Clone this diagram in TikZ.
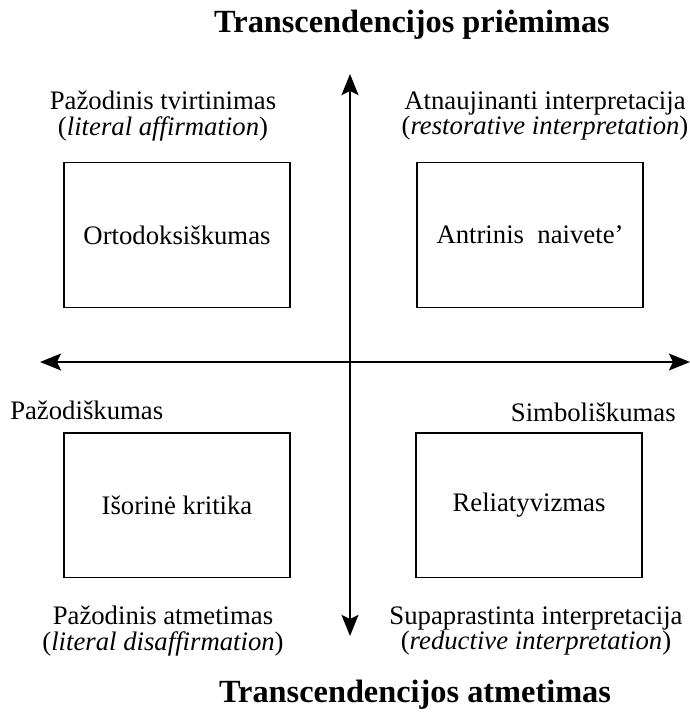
\documentclass[tikz,border=0pt]{standalone}
\usepackage{fontspec}
\setmainfont{Liberation Serif}
\usetikzlibrary{arrows.meta}

\begin{document}
\begin{tikzpicture}[x=0.025cm,y=-0.025cm,
    every node/.style={font=\fontsize{19}{18}\selectfont,inner sep=0pt},
    quad/.style={draw,line width=1.3pt,minimum width=5.65cm,minimum height=3.62cm},
    side/.style={align=center},
    heading/.style={font=\fontsize{23}{26}\selectfont\bfseries},
    axis/.style={line width=1.8pt,
      {Stealth[length=15pt,width=12pt,inset=3pt]}-{Stealth[length=15pt,width=12pt,inset=3pt]}}]

      \useasboundingbox (0,0) rectangle (690,717);

      % axes
      \coordinate (up) at (350,74);
      \coordinate (down) at (350,636);
      \coordinate (left) at (40,362);
      \coordinate (right) at (690,362);
      \draw[axis] (down) -- (up);
      \draw[axis] (left) -- (right);

      % titles
      \node[heading] (accept) at (412,25) {Transcendencijos priėmimas};
      \node[heading] (reject) at (415,695) {Transcendencijos atmetimas};

      % quadrant boxes
      \node[quad] (ortho) at (177,235) {Ortodoksiškumas};
      \node[quad] (naive) at (530,235) {Antrinis\ \ naivete’};
      \node[quad] (outer) at (177,505) {Išorinė kritika};
      \node[quad] (relat) at (529,505) {Reliatyvizmas};

      % labels
      \node[side] (litaff) at (163,116) {Pažodinis tvirtinimas\\(\textit{literal affirmation})};
      \node[side] (restor) at (545,116) {Atnaujinanti interpretacija\\(\textit{restorative interpretation})};
      \node[side] (litdis) at (163,631) {Pažodinis atmetimas\\(\textit{literal disaffirmation})};
      \node[side] (reduct) at (536,631) {Supaprastinta interpretacija\\(\textit{reductive interpretation})};
      \node[anchor=west] (literal) at (10,410) {Pažodiškumas};
      \node[anchor=east] (symbol) at (676,412) {Simboliškumas};

    \end{tikzpicture}
\end{document}
